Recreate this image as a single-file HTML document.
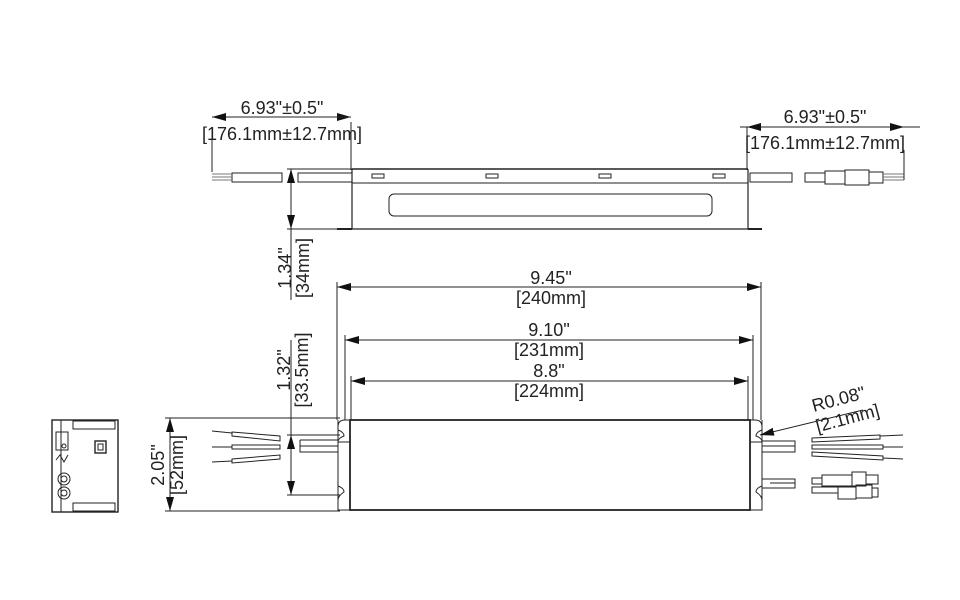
<!DOCTYPE html>
<html><head><meta charset="utf-8"><style>
html,body{margin:0;padding:0;background:#fff;}
svg{display:block;}
text{font-family:"Liberation Sans",sans-serif;font-size:18px;fill:#222;}
</style></head><body>
<svg width="960" height="600" viewBox="0 0 960 600" xmlns="http://www.w3.org/2000/svg">
<defs>
<marker id="a" markerWidth="14" markerHeight="8" refX="14" refY="4" orient="auto" markerUnits="userSpaceOnUse"><path d="M0,0 L14,4 L0,8 z" fill="#111"/></marker>
</defs>
<g stroke="#222" fill="none" stroke-width="1">
<line x1="352" y1="169" x2="748" y2="169" stroke-width="1.6"/>
<line x1="352" y1="229" x2="748" y2="229" stroke-width="1.2"/>
<line x1="352" y1="169" x2="352" y2="229" stroke-width="1.2"/>
<line x1="748" y1="169" x2="748" y2="229" stroke-width="1.2"/>
<line x1="352" y1="183" x2="748" y2="183"/>
<rect x="389" y="194" width="323" height="22" rx="5"/>
<rect x="372" y="174" width="12" height="4"/>
<rect x="486" y="174" width="12" height="4"/>
<rect x="599" y="174" width="12" height="4"/>
<rect x="713" y="174" width="12" height="4"/>
<line x1="337" y1="229" x2="352" y2="229" stroke-width="2"/>
<line x1="748" y1="229" x2="762" y2="229" stroke-width="2"/>
<rect x="232" y="173" width="50" height="9"/>
<rect x="298" y="173" width="54" height="9"/>
<line x1="212" y1="174" x2="232" y2="174" stroke="#777"/><line x1="212" y1="177" x2="232" y2="177" stroke="#777"/><line x1="212" y1="180" x2="232" y2="180" stroke="#777"/>
<rect x="750" y="173" width="42" height="9"/>
<rect x="805" y="173" width="20" height="9"/>
<rect x="825" y="171" width="20" height="13"/>
<rect x="845" y="170" width="24" height="15"/>
<rect x="869" y="172" width="14" height="11"/>
<line x1="883" y1="174" x2="904" y2="174" stroke="#777"/><line x1="883" y1="177" x2="904" y2="177" stroke="#777"/><line x1="883" y1="180" x2="904" y2="180" stroke="#777"/>
<line x1="212" y1="117" x2="351" y2="117" marker-end="url(#a)"/>
<line x1="351" y1="117" x2="212" y2="117" marker-end="url(#a)"/>
<line x1="212" y1="140" x2="212" y2="172"/>
<line x1="351" y1="122" x2="351" y2="170"/>
<line x1="740" y1="127" x2="920" y2="127"/>
<line x1="760" y1="127" x2="747" y2="127" marker-end="url(#a)"/>
<line x1="890" y1="127" x2="904" y2="127" marker-end="url(#a)"/>
<line x1="747" y1="127" x2="747" y2="170"/>
<line x1="904" y1="150" x2="904" y2="180"/>
<line x1="287" y1="169" x2="352" y2="169"/>
<line x1="287" y1="229" x2="340" y2="229"/>
<line x1="291" y1="200" x2="291" y2="169" marker-end="url(#a)"/>
<line x1="291" y1="200" x2="291" y2="229" marker-end="url(#a)"/>
<line x1="291" y1="229" x2="291" y2="300"/>

<rect x="350" y="420" width="400" height="90" stroke-width="1.8"/>
<path d="M350,420 L345,420 Q338,420 338,427 L338,430 Q344,432 344,436 Q338,438 338,442 L350,442"/>
<path d="M338,420 L338,510 L350,510"/>
<path d="M338,486 Q344,488 344,492 Q338,496 338,500"/>
<path d="M750,420 L755,420 Q762,420 762,427 L762,430 Q756,432 756,436 Q762,438 762,442 L750,442"/>
<path d="M762,420 L762,510 L750,510"/>
<path d="M762,486 Q756,488 756,492 Q762,496 762,500"/>
<line x1="345" y1="335" x2="345" y2="420"/>
<line x1="337" y1="282" x2="337" y2="420"/>
<line x1="351" y1="376" x2="351" y2="420"/>
<line x1="753" y1="335" x2="753" y2="420"/>
<line x1="761" y1="282" x2="761" y2="420"/>
<line x1="748" y1="376" x2="748" y2="420"/>
<line x1="337" y1="287" x2="761" y2="287"/>
<line x1="380" y1="287" x2="337" y2="287" marker-end="url(#a)"/>
<line x1="720" y1="287" x2="761" y2="287" marker-end="url(#a)"/>
<line x1="345" y1="340" x2="753" y2="340"/>
<line x1="380" y1="340" x2="345" y2="340" marker-end="url(#a)"/>
<line x1="720" y1="340" x2="753" y2="340" marker-end="url(#a)"/>
<line x1="351" y1="381" x2="748" y2="381"/>
<line x1="380" y1="381" x2="351" y2="381" marker-end="url(#a)"/>
<line x1="720" y1="381" x2="748" y2="381" marker-end="url(#a)"/>
<line x1="165" y1="418" x2="340" y2="418"/>
<line x1="165" y1="511" x2="340" y2="511"/>
<line x1="170" y1="460" x2="170" y2="418" marker-end="url(#a)"/>
<line x1="170" y1="460" x2="170" y2="511" marker-end="url(#a)"/>
<line x1="287" y1="435" x2="340" y2="435"/>
<line x1="287" y1="495" x2="340" y2="495"/>
<line x1="291" y1="340" x2="291" y2="495"/>
<line x1="291" y1="465" x2="291" y2="435" marker-end="url(#a)"/>
<line x1="291" y1="465" x2="291" y2="495" marker-end="url(#a)"/>
<path d="M232,432 L280,436 L280,441 L232,436 z"/><line x1="212" y1="431" x2="232" y2="433"/>
<path d="M232,445 L280,445 L280,449 L232,449 z"/><line x1="212" y1="447" x2="232" y2="447"/>
<path d="M232,459 L280,455 L280,459 L232,463 z"/><line x1="212" y1="462" x2="232" y2="461"/>
<path d="M300,440 L338,440 M300,440 L300,452 L338,452 M300,446 L338,446"/>
<path d="M762,441 L795,441 L795,452 L762,452 M762,446 L795,446"/>
<path d="M762,479 L795,479 L795,488 L762,488 M770,483 L795,483"/>
<path d="M812,438 L880,435 L880,439 L812,442 z"/><line x1="880" y1="436" x2="903" y2="435"/>
<path d="M812,445 L883,445 L883,449 L812,449 z"/><line x1="883" y1="447" x2="903" y2="447"/>
<path d="M812,452 L883,456 L883,460 L812,456 z"/><line x1="883" y1="458" x2="903" y2="459"/>
<rect x="812" y="478" width="10" height="6"/><rect x="822" y="475" width="30" height="11"/><rect x="852" y="472" width="14" height="14"/><rect x="866" y="475" width="12" height="9"/>
<rect x="812" y="487" width="26" height="6"/><rect x="838" y="487" width="18" height="12"/><rect x="856" y="485" width="16" height="13"/><rect x="872" y="488" width="6" height="9"/>
<line x1="863" y1="410" x2="760" y2="435" marker-end="url(#a)"/>
<rect x="52" y="420" width="66" height="92" stroke-width="1.4"/>
<rect x="61" y="420" width="57" height="92"/>
<rect x="73" y="421" width="42" height="8"/>
<rect x="73" y="503" width="42" height="8"/>
<rect x="95" y="441" width="11" height="12" stroke-width="1.4"/>
<rect x="98" y="444" width="5" height="6"/>
<circle cx="64" cy="479" r="6"/><circle cx="64" cy="479" r="3"/>
<circle cx="64" cy="493" r="6"/><circle cx="64" cy="493" r="3"/>
<path d="M56,432 L56,450 L68,450 L68,432 z"/>
<circle cx="64" cy="446" r="2"/>
<path d="M56,460 L60,455 L64,462 L68,455"/>
</g>
<g text-anchor="middle">
<text x="282" y="114">6.93"±0.5"</text>
<text x="282" y="140">[176.1mm±12.7mm]</text>
<text x="825" y="123">6.93"±0.5"</text>
<text x="825" y="149">[176.1mm±12.7mm]</text>
<text x="551" y="284">9.45"</text>
<text x="551" y="304">[240mm]</text>
<text x="549" y="336">9.10"</text>
<text x="549" y="356">[231mm]</text>
<text x="549" y="377">8.8"</text>
<text x="549" y="397">[224mm]</text>
<text transform="translate(291,268) rotate(-90)">1.34"</text>
<text transform="translate(309,268) rotate(-90)">[34mm]</text>
<text transform="translate(290,370) rotate(-90)">1.32"</text>
<text transform="translate(308,370) rotate(-90)">[33.5mm]</text>
<text transform="translate(164,465) rotate(-90)">2.05"</text>
<text transform="translate(183,465) rotate(-90)">[52mm]</text>
<text transform="translate(840,405) rotate(-15)">R0.08"</text>
<text transform="translate(849,424) rotate(-15)">[2.1mm]</text>
</g>
</svg>
</body></html>
